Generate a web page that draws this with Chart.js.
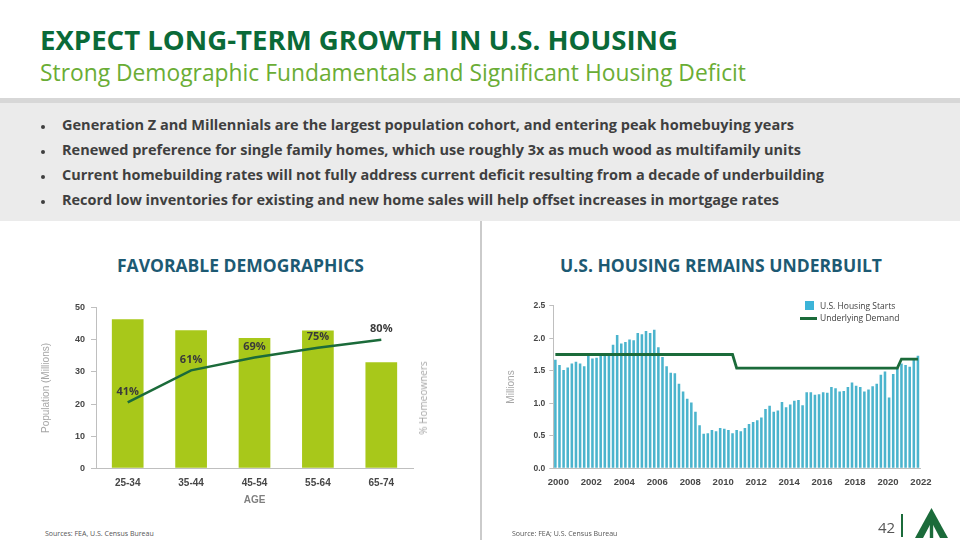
<!DOCTYPE html>
<html>
<head>
<meta charset="utf-8">
<script src="https://cdn.jsdelivr.net/npm/chart.js@4.4.1/dist/chart.umd.min.js"></script>
<style>
  body { margin:0; width:960px; height:540px; position:relative; overflow:hidden; background:#fff; font-family:"Open Sans", sans-serif; }
  .t { position:absolute; white-space:nowrap; line-height:1; transform-origin:0 50%; display:inline-block; }
  #title { left:40px; top:26px; font-size:27px; font-weight:700; color:#0a6a38; }
  #subtitle { left:40px; top:60px; font-size:24px; font-weight:400; color:#6aad35; }
  #band { position:absolute; left:0; top:98px; width:960px; height:123px; background:#ebebeb; border-top:5px solid #d7d7d7; box-sizing:border-box; }
  .bul { font-size:15px; font-weight:700; color:#3f3f3f; }
  .dot { position:absolute; left:41px; width:4px; height:4px; border-radius:50%; background:#3f3f3f; }
  #divider { position:absolute; left:480px; top:221px; width:2px; height:319px; background:#cbcbcb; }
  .sec { font-size:18px; font-weight:700; color:#1d5a73; }
  .foot { font-size:7px; color:#555; }
  #leftBox { position:absolute; left:0; top:290px; width:480px; height:230px; }
  #rightBox { position:absolute; left:480px; top:290px; width:480px; height:230px; }
  #homeTitle { position:absolute; left:423px; top:398px; font-size:10px; color:#a6a6a6; white-space:nowrap; transform:translate(-50%,-50%) rotate(-90deg); }
  .leg { position:absolute; font-size:8.5px; color:#404040; white-space:nowrap; line-height:1; }
</style>
</head>
<body>
<div class="t" id="title">EXPECT LONG-TERM GROWTH IN U.S. HOUSING</div>
<div class="t" id="subtitle">Strong Demographic Fundamentals and Significant Housing Deficit</div>

<div id="band"></div>
<div class="dot" style="top:125px"></div>
<div class="dot" style="top:150px"></div>
<div class="dot" style="top:175px"></div>
<div class="dot" style="top:200px"></div>
<div class="t bul" id="b1" style="left:62px; top:117px">Generation Z and Millennials are the largest population cohort, and entering peak homebuying years</div>
<div class="t bul" id="b2" style="left:62px; top:142px">Renewed preference for single family homes, which use roughly 3x as much wood as multifamily units</div>
<div class="t bul" id="b3" style="left:62px; top:167px">Current homebuilding rates will not fully address current deficit resulting from a decade of underbuilding</div>
<div class="t bul" id="b4" style="left:62px; top:192px">Record low inventories for existing and new home sales will help offset increases in mortgage rates</div>

<div id="divider"></div>

<div class="t sec" id="s1" style="left:117px; top:256px">FAVORABLE DEMOGRAPHICS</div>
<div class="t sec" id="s2" style="left:560px; top:256px">U.S. HOUSING REMAINS UNDERBUILT</div>

<div id="leftBox"><canvas id="demoChart"></canvas></div>
<div id="homeTitle">% Homeowners</div>
<div id="rightBox"><canvas id="startsChart"></canvas></div>

<div style="position:absolute; left:805px; top:301px; width:9px; height:9px; background:#3cb4d8;"></div>
<div class="leg" style="left:820px; top:302px">U.S. Housing Starts</div>
<div style="position:absolute; left:800px; top:317px; width:17px; height:2.5px; background:#1b6b3a;"></div>
<div class="leg" style="left:820px; top:314px">Underlying Demand</div>

<div class="t foot" style="left:45px; top:530px">Sources: FEA, U.S. Census Bureau</div>
<div class="t foot" style="left:512px; top:530px">Source: FEA; U.S. Census Bureau</div>
<div class="t" style="left:878px; top:520px; font-size:15px; color:#555;">42</div>
<div style="position:absolute; left:901px; top:514px; width:2px; height:23px; background:#1b6b3a;"></div>
<svg style="position:absolute; left:912px; top:506px" width="40" height="34" viewBox="0 0 40 34">
  <polygon points="3,32 19.5,2 36,32" fill="#1b6b3a"/>
  <polygon points="11,32 19.5,16 28,32" fill="#fff"/>
  <rect x="17.8" y="14" width="3.4" height="18" fill="#1b6b3a"/>
</svg>

<script>
// ── DATA ─────────────────────────────────────────────
const ageGroups          = ["25-34", "35-44", "45-54", "55-64", "65-74"];
const populationMillions = [46.4, 43.0, 40.6, 42.9, 33.0];
const homeownerPct       = [41, 61, 69, 75, 80];
const populationTicks    = [0, 10, 20, 30, 40, 50];

const years    = ["2000","2001","2002","2003","2004","2005","2006","2007","2008","2009","2010",
                  "2011","2012","2013","2014","2015","2016","2017","2018","2019","2020","2021","2022"];
const quarters = ["Q1", "Q2", "Q3", "Q4"];

// quarterly housing starts, SAAR millions, 2000 Q1 .. 2022 Q1
const housingStarts = [
  1.67, 1.59, 1.51, 1.55,   1.61, 1.64, 1.61, 1.57,   1.73, 1.69, 1.70, 1.73,
  1.74, 1.75, 1.90, 2.05,   1.92, 1.94, 1.98, 1.97,   2.08, 2.06, 2.11, 2.08,
  2.13, 1.86, 1.71, 1.57,   1.47, 1.46, 1.30, 1.18,   1.07, 1.01, 0.87, 0.66,
  0.53, 0.54, 0.59, 0.57,   0.62, 0.61, 0.59, 0.54,   0.59, 0.57, 0.62, 0.68,
  0.71, 0.74, 0.78, 0.91,   0.96, 0.87, 0.89, 1.02,   0.94, 0.98, 1.04, 1.05,
  0.97, 1.17, 1.17, 1.13,   1.14, 1.17, 1.16, 1.25,   1.23, 1.18, 1.19, 1.25,
  1.32, 1.27, 1.25, 1.18,   1.21, 1.26, 1.30, 1.44,   1.49, 1.09, 1.45, 1.54,
  1.61, 1.59, 1.56, 1.68,   1.73
];

// underlying demand: step line break points
const demandQuarters = ["2000 Q1", "2010 Q4", "2011 Q1", "2020 Q4", "2021 Q1", "2022 Q1"];
const demandValues   = [1.75, 1.75, 1.54, 1.54, 1.68, 1.68];

const startsTicks = [0, 0.5, 1.0, 1.5, 2.0, 2.5];
const yearTicks   = ["2000","2002","2004","2006","2008","2010","2012","2014","2016","2018","2020","2022"];

// ── HELPERS ──────────────────────────────────────────
const DARK_GREEN = "#1b6b3a";
const TICK_COLOR = "#474747";
const AXIS_COLOR = "#bfbfbf";

const quarterLabels = [];
years.forEach((y) => quarters.forEach((q) => quarterLabels.push(y + " " + q)));
quarterLabels.length = housingStarts.length;

function fitWidth(id, w) {
  const el = document.getElementById(id);
  const r = el.getBoundingClientRect().width;
  el.style.transform = `scaleX(${w / r})`;
}

const pctLabels = {
  id: "pctLabels",
  afterDatasetsDraw(chart) {
    const meta = chart.getDatasetMeta(0);
    const ctx = chart.ctx;
    ctx.save();
    ctx.font = 'bold 11px "Open Sans"';
    ctx.fillStyle = "#3a3a3a";
    ctx.textAlign = "center";
    ctx.textBaseline = "bottom";
    meta.data.forEach((pt, i) => ctx.fillText(homeownerPct[i] + "%", pt.x, pt.y - 5));
    ctx.restore();
  },
};

// ── LEFT CHART ───────────────────────────────────────
function renderDemographics() {
  new Chart(document.getElementById("demoChart"), {
    data: {
      labels: ageGroups,
      datasets: [
        { type: "line", data: homeownerPct, yAxisID: "y1", borderColor: DARK_GREEN,
          borderWidth: 2.5, pointRadius: 0, tension: 0, order: 0 },
        { type: "bar", data: populationMillions, yAxisID: "y", backgroundColor: "#a8c81a",
          barPercentage: 0.5, categoryPercentage: 1, order: 1 },
      ],
    },
    options: {
      responsive: true, maintainAspectRatio: false, animation: false,
      layout: { padding: { top: 17.7, right: 67, left: 0, bottom: 0 } },
      plugins: { legend: { display: false }, tooltip: { enabled: false } },
      scales: {
        x: {
          grid: { display: false, drawTicks: false },
          border: { color: AXIS_COLOR },
          ticks: { color: TICK_COLOR, font: { weight: "bold", size: 10 }, padding: 9 },
          title: { display: true, text: "AGE", color: "#7f7f7f", font: { weight: "bold", size: 10 },
                   padding: { top: 0, bottom: 14 } },
          afterFit: (s) => { s.height = 51.7; },
        },
        y: {
          min: 0, max: 50,
          afterBuildTicks: (s) => { s.ticks = populationTicks.map((v) => ({ value: v })); },
          ticks: { color: TICK_COLOR, font: { weight: "bold", size: 9 }, padding: 6 },
          grid: { drawOnChartArea: false, tickLength: 5, color: AXIS_COLOR },
          border: { color: AXIS_COLOR },
          title: { display: true, text: "Population (Millions)", color: "#a6a6a6", font: { size: 10 },
                   padding: { top: 40.7, bottom: 0 } },
          afterFit: (s) => { s.width = 96; },
        },
        y1: { display: false, position: "right", min: 0, max: 100 },
      },
    },
    plugins: [pctLabels],
  });
}

// ── RIGHT CHART ──────────────────────────────────────
function renderStarts() {
  new Chart(document.getElementById("startsChart"), {
    data: {
      labels: quarterLabels,
      datasets: [
        { type: "line", data: demandQuarters.map((q, i) => ({ x: q, y: demandValues[i] })),
          borderColor: DARK_GREEN, borderWidth: 2.8, pointRadius: 0, tension: 0, order: 0 },
        { type: "bar", data: housingStarts, backgroundColor: "#4bb4cd",
          barPercentage: 0.62, categoryPercentage: 1, order: 1 },
      ],
    },
    options: {
      responsive: true, maintainAspectRatio: false, animation: false,
      layout: { padding: { top: 15.7, right: 40, left: 0, bottom: 0 } },
      plugins: { legend: { display: false }, tooltip: { enabled: false } },
      scales: {
        x: {
          grid: { display: false, drawTicks: false },
          border: { color: AXIS_COLOR },
          ticks: {
            autoSkip: false, maxRotation: 0, labelOffset: 3, padding: 8.3,
            color: TICK_COLOR, font: { weight: "bold", size: 9.5 },
            callback: function (v) {
              const [yr, q] = this.getLabelForValue(v).split(" ");
              return q === "Q1" && yearTicks.includes(yr) ? yr : "";
            },
          },
          afterFit: (s) => { s.height = 51.7; },
        },
        y: {
          min: 0, max: 2.5,
          afterBuildTicks: (s) => { s.ticks = startsTicks.map((v) => ({ value: v })); },
          ticks: { color: TICK_COLOR, font: { weight: "bold", size: 8.5 }, padding: 4,
                   callback: (v) => v.toFixed(1) },
          grid: { drawOnChartArea: false, tickLength: 4, color: AXIS_COLOR },
          border: { color: AXIS_COLOR },
          title: { display: true, text: "Millions", color: "#a6a6a6", font: { size: 10 },
                   padding: { top: 25.7, bottom: 0 } },
          afterFit: (s) => { s.width = 73.3; },
        },
      },
    },
  });
}

// ── INIT ─────────────────────────────────────────────
fitWidth("title", 638);
fitWidth("subtitle", 706);
fitWidth("b1", 732);
fitWidth("b2", 739);
fitWidth("b3", 762);
fitWidth("b4", 717);
fitWidth("s1", 247);
fitWidth("s2", 322);
renderDemographics();
renderStarts();
</script>
</body>
</html>
